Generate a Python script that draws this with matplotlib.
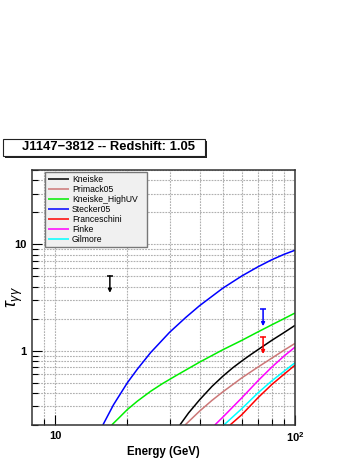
import matplotlib
matplotlib.use("Agg")
import matplotlib.pyplot as plt
from matplotlib.patches import Rectangle
from matplotlib.ticker import FixedLocator, NullFormatter

plt.rcParams['font.family'] = ['Liberation Sans', 'DejaVu Sans']
plt.rcParams['mathtext.fontset'] = 'custom'
plt.rcParams['mathtext.rm'] = 'Liberation Sans'
plt.rcParams['mathtext.bf'] = 'Liberation Sans:bold'
plt.rcParams['mathtext.it'] = 'Liberation Sans:italic'

# ---- data ----
title = "J1147\u22123812 -- Redshift: 1.05"
models = ["Kneiske", "Primack05", "Kneiske_HighUV", "Stecker05", "Franceschini", "Finke", "Gilmore"]
colors = ["#000000", "#cc7777", "#00ee00", "#0000ff", "#ff0000", "#ff00ff", "#00ffff"]

E_kneiske = [33.1, 36, 40, 45, 50, 55, 60, 65, 70, 80, 90, 100]
tau_kneiske = [0.2, 0.26, 0.345, 0.46, 0.575, 0.69, 0.80, 0.91, 1.02, 1.25, 1.48, 1.73]

E_primack = [34.8, 40, 45, 50, 55, 60, 70, 80, 90, 100]
tau_primack = [0.2, 0.27, 0.34, 0.41, 0.48, 0.555, 0.70, 0.85, 1.01, 1.17]

E_highuv = [17.2, 18.5, 20, 22, 25, 28, 32, 40, 50, 60, 70, 80, 90, 100]
tau_highuv = [0.2, 0.235, 0.28, 0.335, 0.415, 0.49, 0.585, 0.78, 1.02, 1.25, 1.50, 1.75, 2.0, 2.26]

E_stecker = [15.8, 17.5, 20, 22, 25, 30, 35, 40, 50, 60, 70, 80, 90, 100]
tau_stecker = [0.2, 0.31, 0.50, 0.67, 0.96, 1.49, 2.05, 2.65, 3.87, 5.04, 6.14, 7.16, 8.05, 8.8]

E_frances = [53.6, 60, 70, 80, 90, 100]
tau_frances = [0.2, 0.25, 0.36, 0.48, 0.60, 0.73]

E_finke = [46.3, 50, 60, 70, 80, 90, 100]
tau_finke = [0.2, 0.237, 0.36, 0.52, 0.70, 0.89, 1.08]

E_gilmore = [50.5, 60, 70, 80, 90, 100]
tau_gilmore = [0.2, 0.285, 0.40, 0.52, 0.64, 0.77]

curves_E = [E_kneiske, E_primack, E_highuv, E_stecker, E_frances, E_finke, E_gilmore]
curves_tau = [tau_kneiske, tau_primack, tau_highuv, tau_stecker, tau_frances, tau_finke, tau_gilmore]

# upper-limit markers: energy, top, bottom, color
lim_E = [16.9, 73.6, 73.6]
lim_top = [5.05, 2.44, 1.34]
lim_bot = [3.5, 1.70, 0.93]
lim_colors = ["#000000", "#0000ff", "#ff0000"]

xlim = (8, 100)
ylim = (0.2, 50)

# ---- figure ----
W, H = 354, 458
fig = plt.figure(figsize=(W / 100, H / 100), dpi=100)
ax = fig.add_axes([32 / W, (H - 425) / H, 263 / W, 255 / H])
ax.set_xscale('log')
ax.set_yscale('log')
ax.set_xlim(*xlim)
ax.set_ylim(*ylim)

xminor = [9, 20, 30, 40, 50, 60, 70, 80, 90]
yminor = [0.3, 0.4, 0.5, 0.6, 0.7, 0.8, 0.9, 2, 3, 4, 5, 6, 7, 8, 9, 20, 30, 40, 50]
ax.xaxis.set_major_locator(FixedLocator([10, 100]))
ax.xaxis.set_minor_locator(FixedLocator(xminor))
ax.yaxis.set_major_locator(FixedLocator([1, 10]))
ax.yaxis.set_minor_locator(FixedLocator([0.2] + yminor))
ax.xaxis.set_minor_formatter(NullFormatter())
ax.yaxis.set_minor_formatter(NullFormatter())
ax.set_xticklabels(["10", r"$\mathbf{10^2}$"], fontsize=8, fontweight='bold')
ax.set_yticklabels(["1", "10"], fontsize=8, fontweight='bold')

ax.tick_params(which='both', direction='in', top=False, right=False, width=0.8)
ax.tick_params(which='major', length=7, pad=4)
ax.tick_params(which='minor', length=4)

ax.grid(True, which='both', color='#b0b0b0', linestyle=(0, (1.6, 1.0)), linewidth=0.8)
for s in ax.spines.values():
    s.set_linewidth(1.1)
    s.set_color('#333333')

for Ev, tv, c, name in zip(curves_E, curves_tau, colors, models):
    ax.plot(Ev, tv, color=c, lw=1.1, label=name, solid_capstyle='butt')

for e, t, b, c in zip(lim_E, lim_top, lim_bot, lim_colors):
    ax.annotate('', xy=(e, b), xytext=(e, t),
                arrowprops=dict(arrowstyle='-|>', color=c, lw=1.1,
                                mutation_scale=5, shrinkA=0, shrinkB=0))
    ax.plot([e], [t], marker='_', color=c, ms=5, mew=1.1)

ax.set_xlabel("Energy (GeV)", fontsize=8.3, fontweight='bold', labelpad=1)
ax.set_ylabel(r"$\tau_{\gamma\gamma}$", fontsize=13)
ax.yaxis.set_label_coords(-0.028, 0.5)

leg = ax.legend(loc='upper left', bbox_to_anchor=(13 / 263, 0, 102 / 263, 253 / 255), mode='expand',
                fontsize=6.2, frameon=True, fancybox=False, borderpad=0.35, labelspacing=0.12,
                handlelength=2.4, handletextpad=0.4, borderaxespad=0)
leg.get_frame().set_facecolor('#f0f0f0')
leg.get_frame().set_edgecolor('#777777')
leg.get_frame().set_linewidth(1.0)
leg.get_frame().set_alpha(1)

# title box with shadow
bx0, bx1, by0, by1 = 3, 205, 139, 156
fig.patches.append(Rectangle(((bx0 + 2) / W, (H - by1 - 2) / H), (bx1 - bx0) / W, (by1 - by0) / H,
                             transform=fig.transFigure, facecolor='#222222', edgecolor='none'))
fig.patches.append(Rectangle((bx0 / W, (H - by1) / H), (bx1 - bx0) / W, (by1 - by0) / H,
                             transform=fig.transFigure, facecolor='white', edgecolor='#222222', lw=0.8))
fig.text((bx0 + bx1) / 2 / W + 4 / W, (H - (by0 + by1) / 2) / H, title, ha='center', va='center',
         fontsize=9.4, fontweight='bold')

fig.savefig("out.png", dpi=100)
